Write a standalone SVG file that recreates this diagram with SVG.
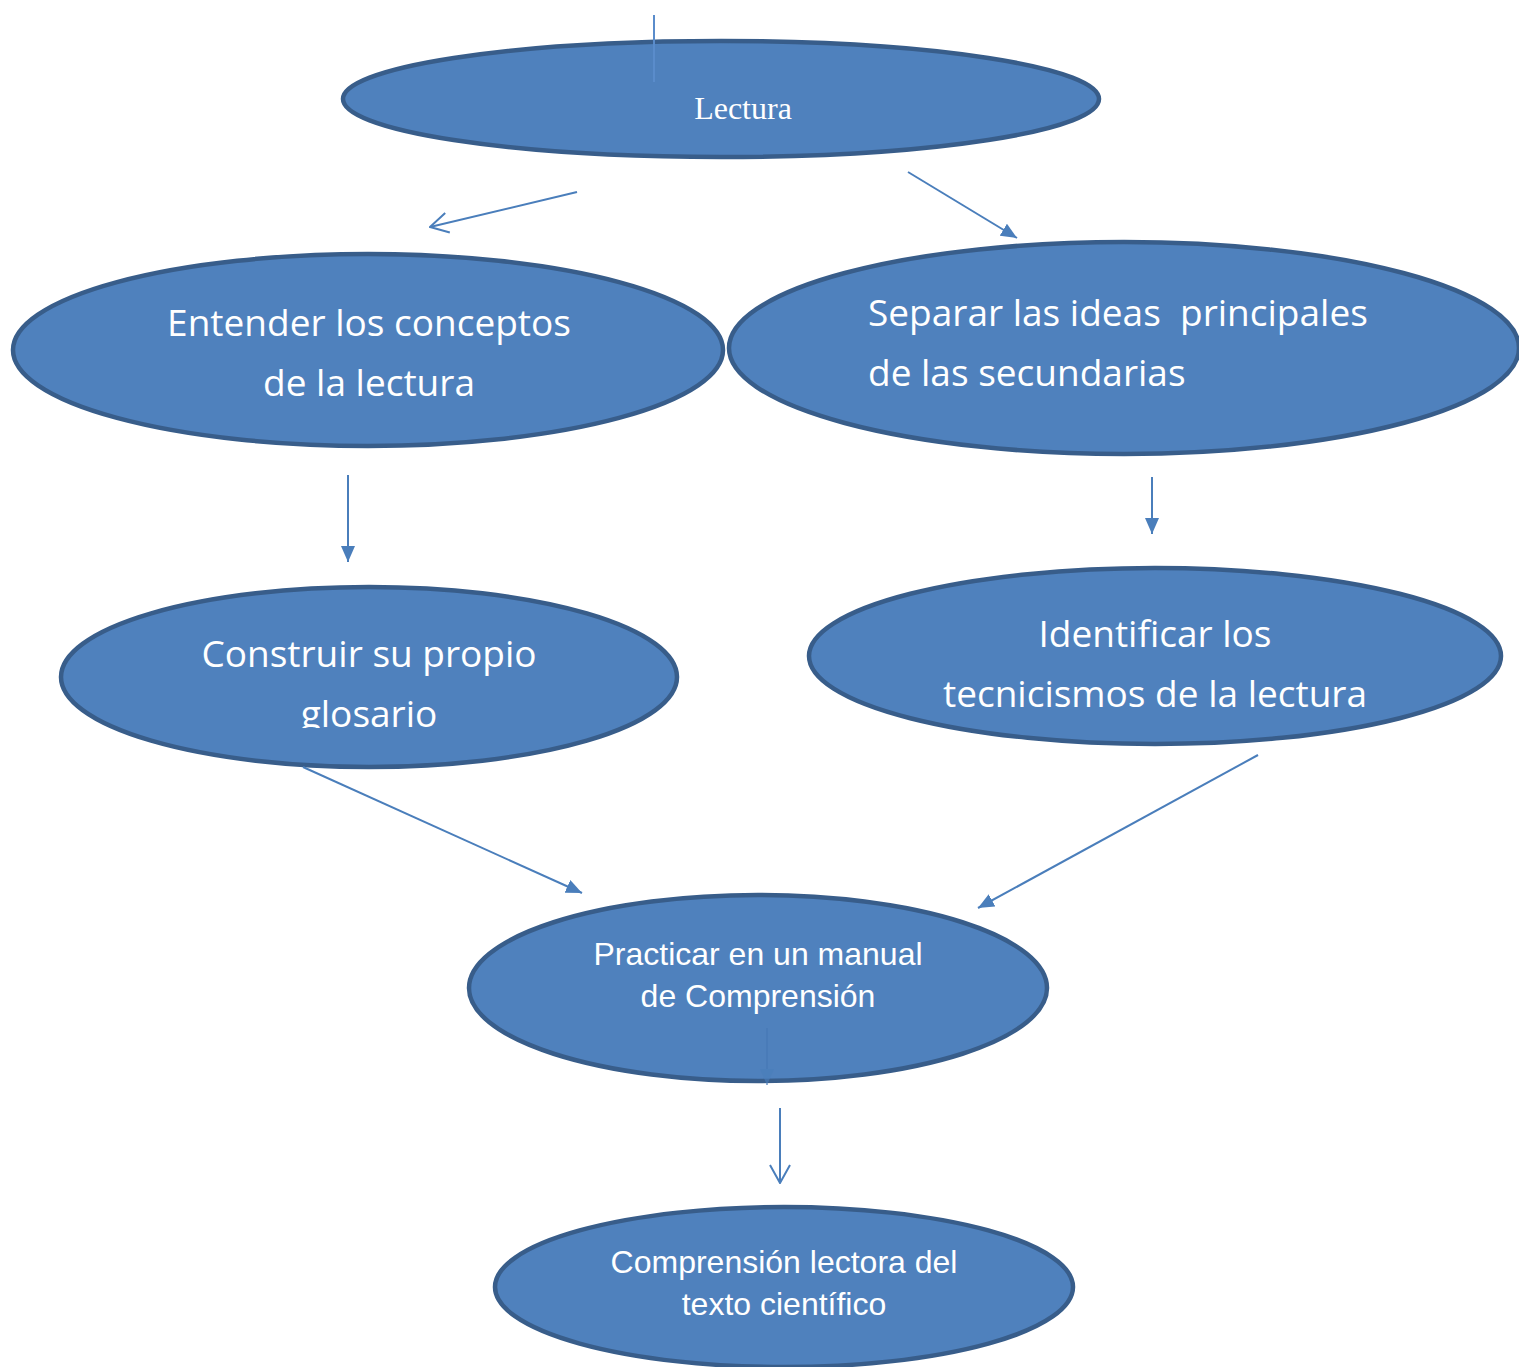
<svg xmlns="http://www.w3.org/2000/svg" width="1519" height="1367" viewBox="0 0 1519 1367">
<style>
.node{fill:#4f81bd;stroke:#385d8a;stroke-width:4.5}
.t{fill:#ffffff;font-family:"Open Sans","DejaVu Sans",sans-serif;font-size:37px;white-space:pre}
.ta{fill:#ffffff;font-family:"Liberation Sans",Arial,sans-serif;font-size:32px}
.ts{fill:#ffffff;font-family:"Liberation Serif","Times New Roman",serif;font-size:32px}
.c{stroke:#4a7ebb;stroke-width:2;fill:none}
</style>
<defs>
<marker id="fa" viewBox="0 0 16 14" refX="16" refY="7" markerWidth="16" markerHeight="14" orient="auto" markerUnits="userSpaceOnUse">
<path d="M0,0 L16,7 L0,14 z" fill="#4a7ebb"/>
</marker>
<marker id="oa" viewBox="0 0 20 22" refX="19" refY="11" markerWidth="20" markerHeight="22" orient="auto" markerUnits="userSpaceOnUse">
<path d="M1,1 L19,11 L1,21" fill="none" stroke="#4a7ebb" stroke-width="2"/>
</marker>
<clipPath id="clipG"><rect x="0" y="587" width="1519" height="141"/></clipPath>
</defs>
<g id="n-lectura">
<ellipse class="node" cx="721" cy="99" rx="378" ry="58"/>
<text class="ts" x="743" y="119" text-anchor="middle">Lectura</text>
</g>
<g id="n-entender">
<ellipse class="node" cx="368" cy="350" rx="355" ry="96"/>
<text class="t" x="369" y="336" text-anchor="middle">Entender los conceptos</text>
<text class="t" x="369" y="396" text-anchor="middle">de la lectura</text>
</g>
<g id="n-separar">
<ellipse class="node" cx="1124" cy="348" rx="395" ry="106"/>
<text class="t" x="868" y="326" xml:space="preserve">Separar las ideas  principales</text>
<text class="t" x="868" y="386">de las secundarias</text>
</g>
<g id="n-construir">
<ellipse class="node" cx="369" cy="677" rx="308" ry="90"/>
<text class="t" x="369" y="667" text-anchor="middle">Construir su propio</text>
<text class="t" x="369" y="727" text-anchor="middle" clip-path="url(#clipG)">glosario</text>
</g>
<g id="n-identificar">
<ellipse class="node" cx="1155" cy="656" rx="346" ry="88"/>
<text class="t" x="1155" y="647" text-anchor="middle">Identificar los</text>
<text class="t" x="1155" y="707" text-anchor="middle">tecnicismos de la lectura</text>
</g>
<g id="n-practicar">
<ellipse class="node" cx="758" cy="988" rx="289" ry="93"/>
<text class="ta" x="758" y="965" text-anchor="middle">Practicar en un manual</text>
<text class="ta" x="758" y="1007" text-anchor="middle">de Comprensión</text>
</g>
<g id="n-comprension">
<ellipse class="node" cx="784" cy="1287" rx="289" ry="80"/>
<text class="ta" x="784" y="1273" text-anchor="middle">Comprensión lectora del</text>
<text class="ta" x="784" y="1315" text-anchor="middle">texto científico</text>
</g>
<g id="connectors">
<line x1="654" y1="15" x2="654" y2="82" stroke="#5a8ccb" stroke-width="2"/>
<line class="c" x1="577" y1="192" x2="430" y2="227" marker-end="url(#oa)"/>
<line class="c" x1="908" y1="172" x2="1017" y2="238" marker-end="url(#fa)"/>
<line class="c" x1="348" y1="475" x2="348" y2="562" marker-end="url(#fa)"/>
<line class="c" x1="1152" y1="477" x2="1152" y2="534" marker-end="url(#fa)"/>
<line class="c" x1="303" y1="767" x2="582" y2="893" marker-end="url(#fa)"/>
<line class="c" x1="1258" y1="755" x2="978" y2="908" marker-end="url(#fa)"/>
<line x1="767" y1="1028" x2="767" y2="1085" stroke="#4678b5" stroke-width="2" marker-end="url(#fa)" opacity="0.6"/>
<line class="c" x1="780" y1="1108" x2="780" y2="1183" marker-end="url(#oa)"/>
</g>
</svg>
